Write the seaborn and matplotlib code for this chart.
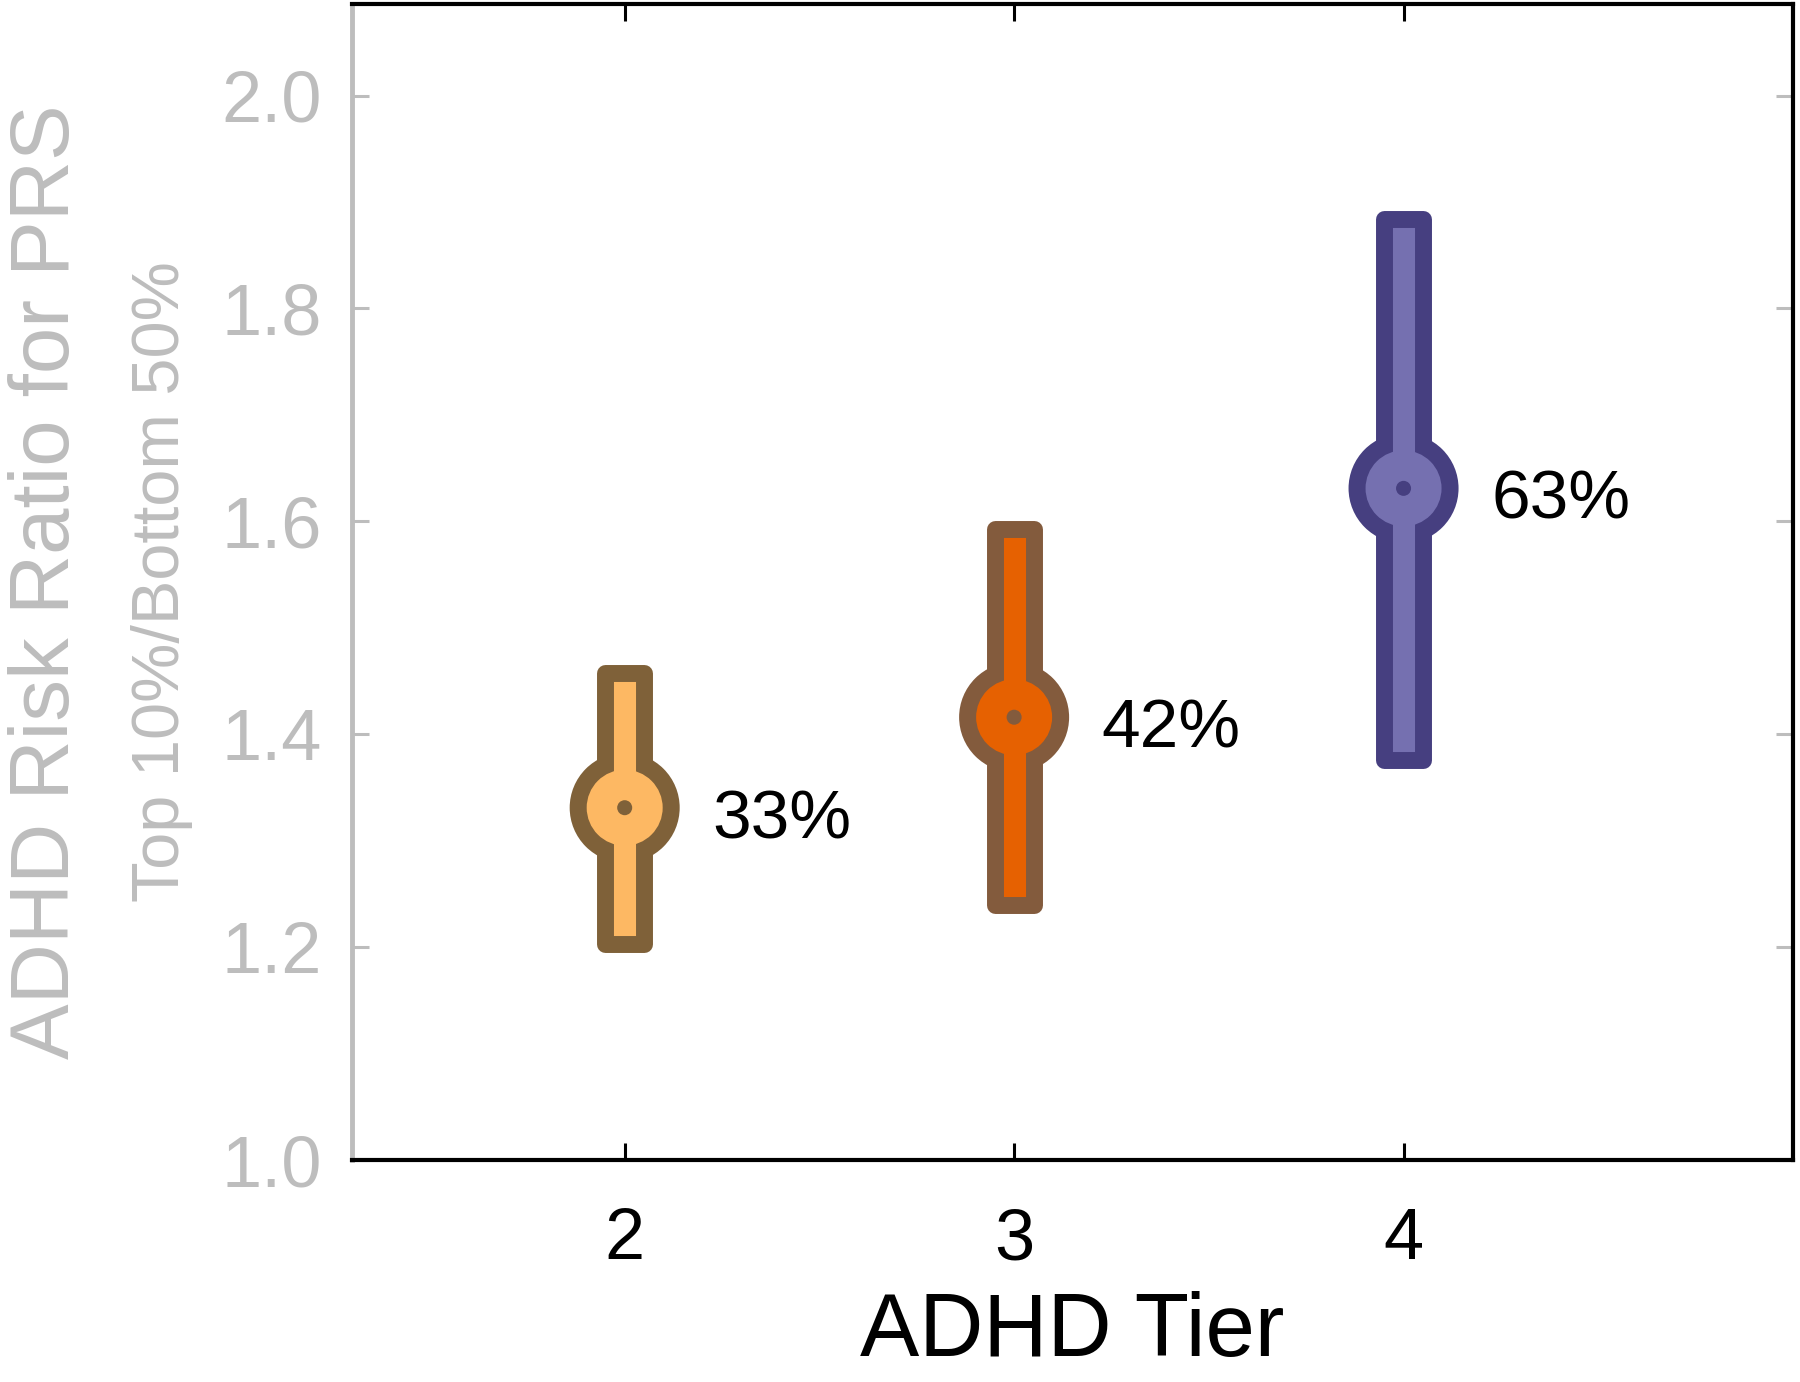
import matplotlib
matplotlib.use('Agg')
import matplotlib.pyplot as plt
import seaborn as sns
import pandas as pd

# Values
tiers = [2, 3, 4]
risk_ratio = [1.331, 1.416, 1.631]
ci_low = [1.203, 1.240, 1.376]
ci_high = [1.458, 1.593, 1.884]
pct_labels = ['33%', '42%', '63%']

fill_colors = ['#fdb863', '#e66101', '#7570b0']
edge_colors = ['#7f6139', '#835b3d', '#463f80']

y_ticks = [1.0, 1.2, 1.4, 1.6, 1.8, 2.0]

sns.set_style('white')
plt.rcParams['font.family'] = ['Liberation Sans', 'DejaVu Sans']

df = pd.DataFrame({'tier': tiers, 'rr': risk_ratio, 'lo': ci_low, 'hi': ci_high})

fig = plt.figure(figsize=(18, 13.82), dpi=100)
ax = fig.add_axes([0.1956, 0.1606, 0.8005, 0.8365])

# outer dark disc (sits below the CI box)
sns.scatterplot(data=df, x='tier', y='rr', hue='tier', palette=edge_colors,
                s=6273, linewidth=0, edgecolor='none', legend=False, ax=ax, zorder=2)

# CI boxes with thick rounded outline
ax.bar(df['tier'], df['hi'] - df['lo'], bottom=df['lo'], width=0.1,
       color=fill_colors, edgecolor=edge_colors, linewidth=12.2,
       joinstyle='round', zorder=3)

# inner fill disc covering the box outline
sns.scatterplot(data=df, x='tier', y='rr', hue='tier', palette=fill_colors,
                s=2994, linewidth=0, edgecolor='none', legend=False, ax=ax, zorder=4)

# small centre dot
sns.scatterplot(data=df, x='tier', y='rr', hue='tier', palette=edge_colors,
                s=117, linewidth=0, edgecolor='none', legend=False, ax=ax, zorder=5)

for t, r, lab in zip(tiers, risk_ratio, pct_labels):
    ax.annotate(lab, (t, r), xytext=(63, -9), textcoords='offset points',
                fontsize=50, color='black', ha='left', va='center', zorder=6)

ax.set_xlim(1.3, 5.0)
ax.set_ylim(1.0, 2.086)
ax.set_xticks(tiers)
ax.set_xticklabels([str(t) for t in tiers])
ax.set_yticks(y_ticks)
ax.set_yticklabels([f'{v:.1f}' for v in y_ticks])

gray = '#bdbdbd'
for side in ['top', 'right', 'bottom']:
    ax.spines[side].set_color('black')
    ax.spines[side].set_linewidth(3)
ax.spines['left'].set_color(gray)
ax.spines['left'].set_linewidth(3.5)

ax.tick_params(axis='x', direction='in', length=12, width=2.2, colors='black',
               labelsize=52, pad=34, top=True, bottom=True)
ax.tick_params(axis='y', direction='in', length=12, width=2.2, colors=gray,
               labelsize=52, pad=22, left=True, right=True)

ax.set_xlabel('ADHD Tier', fontsize=64, color='black', labelpad=12)
ax.set_ylabel('')
ax.text(-0.212, 0.5, 'ADHD Risk Ratio for PRS', transform=ax.transAxes,
        rotation=90, fontsize=60, color=gray, ha='center', va='center')
ax.text(-0.132, 0.5, 'Top 10%/Bottom 50%', transform=ax.transAxes,
        rotation=90, fontsize=48, color=gray, ha='center', va='center')

fig.savefig('out.png', dpi=100, facecolor='white')
